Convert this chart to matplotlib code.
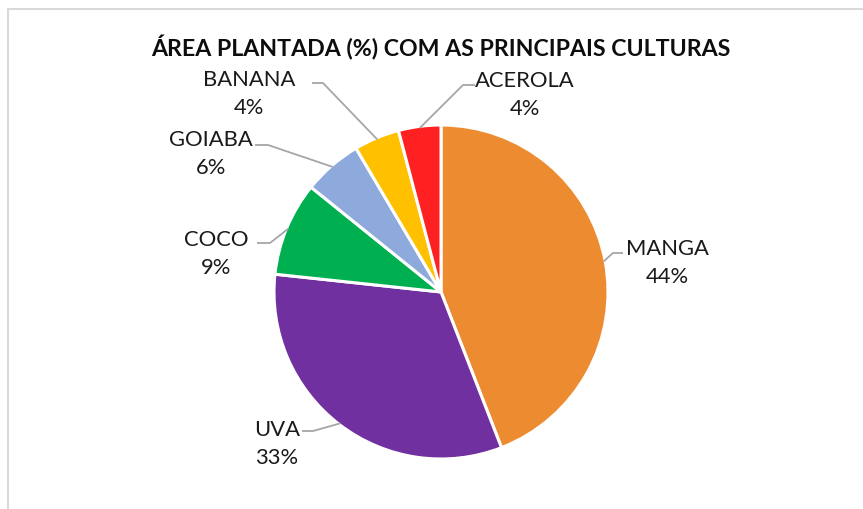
import matplotlib.pyplot as plt
import numpy as np
from matplotlib.patches import Rectangle

culturas = ['MANGA', 'UVA', 'COCO', 'GOIABA', 'BANANA', 'ACEROLA']
area = [44.1, 32.6, 9.1, 5.7, 4.4, 4.1]
rotulos_pct = ['44%', '33%', '9%', '6%', '4%', '4%']
cores = ['#ED8B30', '#7030A0', '#00B050', '#8EA9DB', '#FFC000', '#FF2121']
titulo = 'ÁREA PLANTADA (%) COM AS PRINCIPAIS CULTURAS'

# label layout in pixel units (x, y from top)
pos_rotulo = [(667, 263), (277, 444), (216, 254), (211, 154), (249, 94), (525, 95)]
cotovelo = [((623, 254), (613, 254)), ((302, 432), (313, 432)), ((257, 244), (270, 244)),
            ((255, 146), (268, 146)), ((312, 84), (323, 84)), ((475, 86), (463, 86))]

W, H = 863, 510
plt.rcParams['font.family'] = ['Lato', 'DejaVu Sans']
fig = plt.figure(figsize=(W / 100, H / 100), dpi=100)
ax = fig.add_axes([0, 0, 1, 1])

def Y(y):
    return H - y

cx, cy, r = 441, 293, 167
wedges, _ = ax.pie(area, colors=cores, startangle=90, counterclock=False,
                   center=(cx, Y(cy)), radius=r, frame=True,
                   wedgeprops=dict(edgecolor='white', linewidth=2.2))
ax.set_xlim(0, W)
ax.set_ylim(0, H)
ax.axis('off')

for w, nome, pct, p, (a, b) in zip(wedges, culturas, rotulos_pct, pos_rotulo, cotovelo):
    ang = np.deg2rad((w.theta1 + w.theta2) / 2)
    px_, py_ = cx + r * 0.99 * np.cos(ang), Y(cy) + r * 0.99 * np.sin(ang)
    ax.plot([a[0], b[0], px_], [Y(a[1]), Y(b[1]), py_], color='#A6A6A6', lw=1.3,
            solid_capstyle='butt')
    ax.text(p[0], Y(p[1]), f'{nome}\n{pct}', ha='center', va='center', fontsize=15.8,
            color='#1a1a1a', linespacing=1.5)

ax.text(441, Y(48), titulo, ha='center', va='center', fontsize=16.7, fontweight='bold',
        color='#0d0d0d')

ax.add_patch(Rectangle((8, Y(530)), 880, 520, fill=False, edgecolor='#D9D9D9', lw=1.5,
                       clip_on=False))

fig.savefig('out.png', dpi=100)
